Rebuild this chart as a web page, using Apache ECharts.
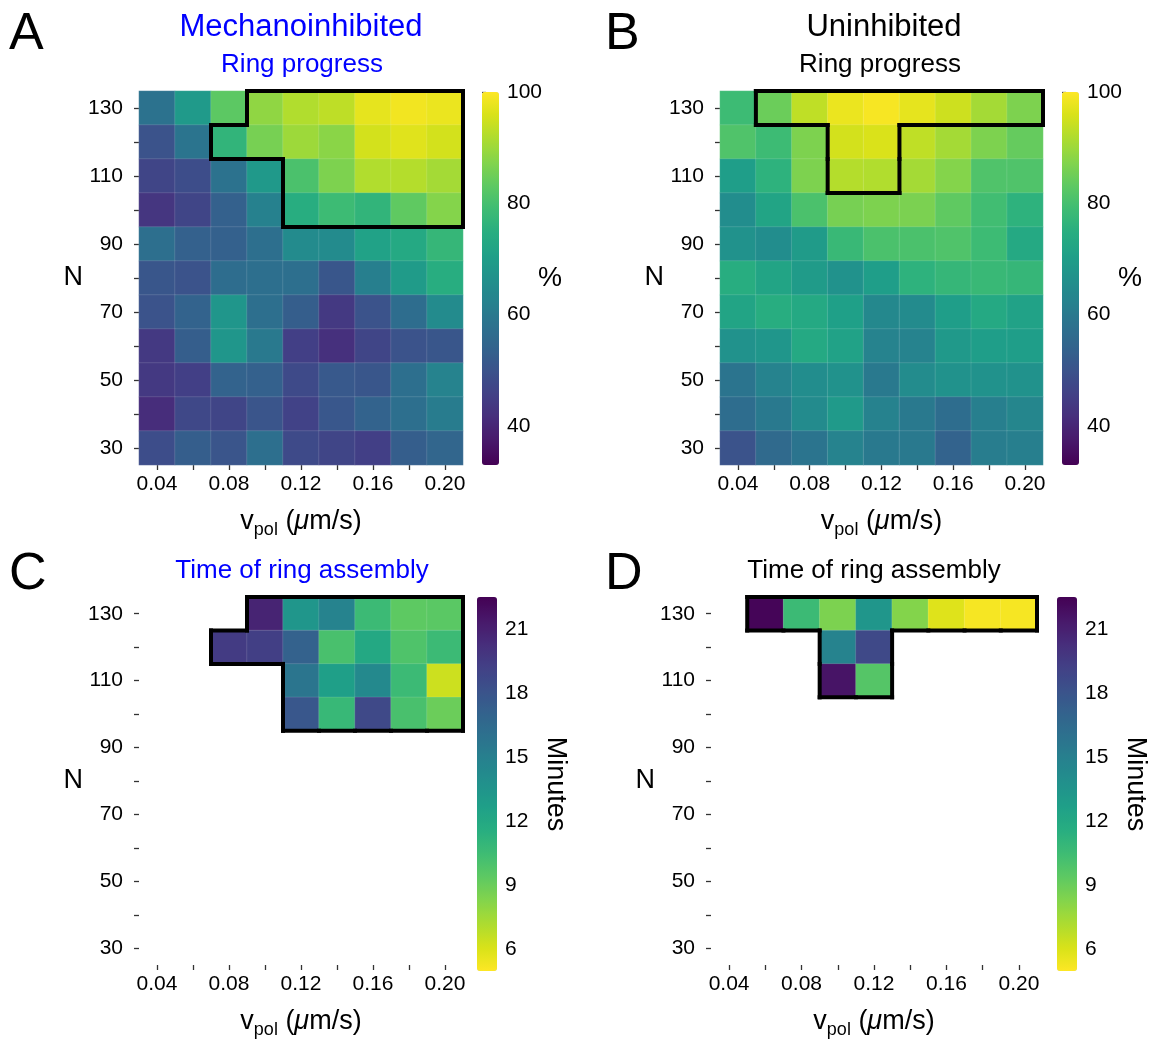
<!DOCTYPE html>
<html><head><meta charset="utf-8">
<script src="https://cdn.jsdelivr.net/npm/echarts@6/dist/echarts.min.js"></script>
<style>html,body{margin:0;padding:0;background:#fff}#c{width:1154px;height:1040px}</style>
</head><body><div id="c"></div>
<script>
// ---- categories ----
const vpolCats = ['0.04','0.06','0.08','0.10','0.12','0.14','0.16','0.18','0.20'];
const nCats = ['30','40','50','60','70','80','90','100','110','120','130'];
// rows listed from N=130 (top) down to N=30 (bottom)
const rowsTopDown = ['130','120','110','100','90','80','70','60','50','40','30'];

// ---- A: Mechanoinhibited, ring progress (%) ----
const progressMech = [
  [58.0, 69.0, 83.0, 88.7, 92.0, 93.3, 97.4, 98.7, 98.0],
  [50.0, 58.7, 76.7, 86.0, 90.0, 88.0, 95.3, 96.7, 95.3],
  [46.7, 48.7, 58.0, 68.7, 80.7, 86.7, 92.0, 92.3, 90.7],
  [43.4, 46.7, 53.4, 62.0, 74.7, 78.7, 76.7, 83.4, 87.4],
  [57.4, 53.4, 53.4, 57.4, 64.7, 64.7, 71.4, 73.4, 77.4],
  [50.7, 50.0, 56.7, 57.4, 57.4, 50.7, 61.4, 69.4, 74.7],
  [50.0, 54.0, 68.0, 57.4, 52.7, 44.0, 50.0, 56.7, 64.7],
  [44.0, 52.7, 68.0, 60.0, 45.4, 42.0, 46.7, 50.0, 50.7],
  [44.0, 45.4, 54.0, 53.4, 48.0, 51.4, 50.7, 57.4, 62.7],
  [41.4, 47.4, 46.7, 50.4, 46.0, 51.0, 54.0, 57.4, 60.7],
  [48.7, 52.7, 50.4, 57.4, 48.0, 46.7, 45.4, 52.7, 54.7]
];
// ---- B: Uninhibited, ring progress (%) ----
const progressUninh = [
  [78.7, 84.7, 93.4, 98.0, 99.3, 97.4, 94.7, 90.7, 86.7],
  [81.4, 78.7, 86.7, 95.3, 96.0, 93.4, 90.7, 86.7, 84.0],
  [70.0, 76.0, 86.7, 92.3, 92.0, 90.7, 87.4, 81.4, 81.4],
  [65.4, 72.0, 80.7, 86.0, 86.7, 86.4, 83.4, 79.4, 76.0],
  [66.7, 65.4, 69.4, 78.0, 80.7, 80.7, 81.4, 78.7, 73.4],
  [74.7, 72.0, 69.4, 66.7, 70.0, 76.0, 77.4, 78.0, 77.4],
  [72.0, 74.7, 73.4, 70.7, 64.0, 64.7, 70.0, 73.4, 71.4],
  [66.7, 68.0, 73.4, 71.4, 62.7, 62.7, 68.7, 70.0, 70.0],
  [58.7, 62.7, 65.4, 66.7, 60.0, 65.0, 66.7, 66.7, 66.7],
  [56.7, 60.0, 64.7, 69.0, 62.4, 60.0, 56.7, 61.4, 63.4],
  [50.0, 56.0, 58.7, 62.7, 60.0, 60.0, 54.0, 61.0, 61.4]
];
// ---- C: Mechanoinhibited, time of ring assembly (minutes) ----
const timeMechRows = ['130','120','110','100'];
const timeMech = [
  [null, null, null, 20.8, 13.4, 14.8, 10.6, 9.4, 9.5],
  [null, null, 19.5, 19.3, 17.1, 10.1, 12.0, 9.9, 10.6],
  [null, null, null, null, 15.7, 12.7, 14.3, 10.6, 6.4],
  [null, null, null, null, 17.8, 10.8, 18.7, 10.1, 9.0]
];
// ---- D: Uninhibited, time of ring assembly (minutes) ----
const timeUninhRows = ['130','120','110'];
const timeUninh = [
  [null, 22.3, 10.6, 8.5, 13.4, 8.3, 5.9, 5.2, 5.2],
  [null, null, null, 14.8, 18.7, null, null, null, null],
  [null, null, null, 21.6, 9.7, null, null, null, null]
];
// colour-bar ticks
const pctTicks = [40, 60, 80, 100];
const minTicks = [6, 9, 12, 15, 18, 21];
const pctRange = [33, 100];
const minRange = [5, 22.5];

const viridis = ['#440154','#48186a','#472d7b','#424086','#3b528b','#33638d','#2c728e','#26828e',
  '#21918c','#1fa088','#28ae80','#3fbc73','#5ec962','#84d44b','#addc30','#d8e219','#fde725'];
const viridisR = viridis.slice().reverse();

const FF = 'Liberation Sans, Arial, Helvetica, sans-serif';
const TICK_FS = 21;
const NAME_FS = 27;

function toCells(rows, rowLabels) {
  const out = [];
  rows.forEach((row, r) => {
    const yi = nCats.indexOf(rowLabels[r]);
    row.forEach((v, xi) => { if (v !== null && v !== undefined) out.push([xi, yi, v]); });
  });
  return out;
}
const cellsA = toCells(progressMech, rowsTopDown);
const cellsB = toCells(progressUninh, rowsTopDown);
const cellsC = toCells(timeMech, timeMechRows);
const cellsD = toCells(timeUninh, timeUninhRows);

// outline regions = cells where ring assembly completed (have a time)
const regionMech = cellsC.map(c => [c[0], c[1]]);
const regionUninh = cellsD.map(c => [c[0], c[1]]);

function outlineRender(region) {
  const set = new Set(region.map(c => c[0] + ',' + c[1]));
  return function (params, api) {
    const x = api.value(0), y = api.value(1);
    const c = api.coord([x, y]);
    const s = api.size([1, 1]);
    const l = c[0] - s[0] / 2, r = c[0] + s[0] / 2, t = c[1] - s[1] / 2, b = c[1] + s[1] / 2;
    const segs = [];
    if (!set.has(x + ',' + (y + 1))) segs.push([l, t, r, t]);
    if (!set.has(x + ',' + (y - 1))) segs.push([l, b, r, b]);
    if (!set.has((x - 1) + ',' + y)) segs.push([l, t, l, b]);
    if (!set.has((x + 1) + ',' + y)) segs.push([r, t, r, b]);
    return {
      type: 'group',
      children: segs.map(sg => ({
        type: 'line',
        shape: { x1: sg[0], y1: sg[1], x2: sg[2], y2: sg[3] },
        style: { stroke: '#000', lineWidth: 4, lineCap: 'square' }
      }))
    };
  };
}

const xName = '{v|v}{s|pol}{v| (}{mu|μ}{v|m/s)}';
const xNameStyle = {
  color: '#000', fontFamily: FF, fontSize: NAME_FS,
  rich: {
    v: { fontSize: NAME_FS, fontFamily: FF, color: '#000' },
    s: { fontSize: 18, fontFamily: FF, color: '#000', padding: [17, 0, 0, 0] },
    mu: { fontSize: NAME_FS, fontFamily: FF, color: '#000', fontStyle: 'italic' }
  }
};

const grids = [
  { left: 139, top: 91, width: 324, height: 374 },
  { left: 720, top: 91, width: 323, height: 374 },
  { left: 139, top: 597, width: 324, height: 374 },
  { left: 711, top: 597, width: 326, height: 374 },
  // colour bars
  { left: 482, top: 92, width: 17, height: 373 },
  { left: 1062, top: 92, width: 17, height: 373 },
  { left: 477, top: 597, width: 20, height: 374 },
  { left: 1057, top: 597, width: 20, height: 374 }
];

function mainX(gi) {
  return {
    type: 'category', gridIndex: gi, data: vpolCats,
    axisLine: { show: false },
    axisTick: { show: true, interval: 0, alignWithLabel: true, length: 5, lineStyle: { color: '#333', width: 1.3 } },
    axisLabel: { interval: 1, fontSize: TICK_FS, color: '#000', fontFamily: FF, margin: 9 },
    splitLine: { show: false },
    name: xName, nameLocation: 'middle', nameGap: 39, nameTextStyle: xNameStyle
  };
}
function mainY(gi) {
  return {
    type: 'category', gridIndex: gi, data: nCats,
    axisLine: { show: false },
    axisTick: { show: true, interval: 0, alignWithLabel: true, length: 5, lineStyle: { color: '#333', width: 1.3 } },
    axisLabel: { interval: 1, fontSize: TICK_FS, color: '#000', fontFamily: FF, margin: 16 },
    splitLine: { show: false },
    name: 'N', nameLocation: 'middle', nameRotate: 0, nameGap: 55,
    nameTextStyle: { fontSize: NAME_FS, color: '#000', fontFamily: FF }
  };
}
function cbX(gi) { return { type: 'value', gridIndex: gi, show: false, min: 0, max: 1 }; }
function cbY(gi, range, ticks, name, rot, gap, moveOverlap) {
  return {
    type: 'value', gridIndex: gi, min: range[0], max: range[1], position: 'right',
    axisLine: { show: false },
    axisTick: { show: true, length: 4, customValues: ticks, lineStyle: { color: '#333', width: 1.3 } },
    axisLabel: { customValues: ticks, fontSize: TICK_FS, color: '#000', fontFamily: FF, margin: 8 },
    splitLine: { show: false },
    name: name, nameLocation: 'middle', nameRotate: rot, nameGap: gap, nameMoveOverlap: moveOverlap,
    nameTextStyle: { fontSize: NAME_FS, color: '#000', fontFamily: FF }
  };
}

const heatStyle = { borderColor: 'rgba(255,255,255,0.22)', borderWidth: 0.6 };

function vm(si, range, colors, g) {
  return {
    type: 'continuous', seriesIndex: si, dimension: 2, min: range[0], max: range[1],
    calculable: false, hoverLink: false, orient: 'vertical', padding: 0,
    left: g.left, top: g.top, itemWidth: g.width, itemHeight: g.height,
    inRange: { color: colors }, textStyle: { fontSize: 0 }
  };
}

function txt(text, x, y, size, color) {
  return { type: 'text', x: x, y: y, style: { text: text, fontSize: size, fontFamily: FF, fill: color, textAlign: 'center', textVerticalAlign: 'middle' } };
}
function letter(text, x, y) {
  return { type: 'text', x: x, y: y, style: { text: text, fontSize: 52, fontFamily: FF, fill: '#000', textAlign: 'left', textVerticalAlign: 'top' } };
}

const option = {
  backgroundColor: '#fff',
  animation: false,
  grid: grids,
  xAxis: [mainX(0), mainX(1), mainX(2), mainX(3), cbX(4), cbX(5), cbX(6), cbX(7)],
  yAxis: [mainY(0), mainY(1), mainY(2), mainY(3),
    cbY(4, pctRange, pctTicks, '%', 0, 39, false), cbY(5, pctRange, pctTicks, '%', 0, 39, false),
    cbY(6, minRange, minTicks, 'Minutes', -90, 45, true), cbY(7, minRange, minTicks, 'Minutes', -90, 45, true)],
  visualMap: [
    vm(0, pctRange, viridis, grids[4]),
    vm(1, pctRange, viridis, grids[5]),
    vm(2, minRange, viridisR, grids[6]),
    vm(3, minRange, viridisR, grids[7])
  ],
  series: [
    { type: 'heatmap', xAxisIndex: 0, yAxisIndex: 0, data: cellsA, itemStyle: heatStyle },
    { type: 'heatmap', xAxisIndex: 1, yAxisIndex: 1, data: cellsB, itemStyle: heatStyle },
    { type: 'heatmap', xAxisIndex: 2, yAxisIndex: 2, data: cellsC, itemStyle: heatStyle },
    { type: 'heatmap', xAxisIndex: 3, yAxisIndex: 3, data: cellsD, itemStyle: heatStyle },
    { type: 'custom', xAxisIndex: 0, yAxisIndex: 0, data: regionMech, clip: false, z: 10, silent: true, renderItem: outlineRender(regionMech) },
    { type: 'custom', xAxisIndex: 1, yAxisIndex: 1, data: regionUninh, clip: false, z: 10, silent: true, renderItem: outlineRender(regionUninh) },
    { type: 'custom', xAxisIndex: 2, yAxisIndex: 2, data: regionMech, clip: false, z: 10, silent: true, renderItem: outlineRender(regionMech) },
    { type: 'custom', xAxisIndex: 3, yAxisIndex: 3, data: regionUninh, clip: false, z: 10, silent: true, renderItem: outlineRender(regionUninh) }
  ],
  graphic: [
    letter('A', 9, 9), letter('B', 605, 9), letter('C', 9, 549), letter('D', 605, 549),
    txt('Mechanoinhibited', 301, 27, 31, '#0000ff'),
    txt('Ring progress', 302, 65, 26, '#0000ff'),
    txt('Uninhibited', 884, 27, 31, '#000'),
    txt('Ring progress', 880, 65, 26, '#000'),
    txt('Time of ring assembly', 302, 571, 26, '#0000ff'),
    txt('Time of ring assembly', 874, 571, 26, '#000')
  ]
};

const chart = echarts.init(document.getElementById('c'), null, { renderer: 'canvas' });
chart.setOption(option);
</script></body></html>
